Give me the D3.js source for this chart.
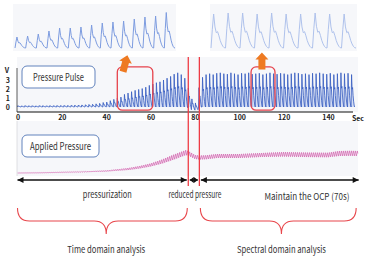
<!DOCTYPE html>
<html>
<head>
<meta charset="utf-8">
<style>
    body { margin: 0; background: #fff; }
    svg { display: block; font-family: "Noto Sans CJK KR", "Noto Sans", sans-serif; }
</style>
</head>
<body>
<svg id="chart" width="366" height="256"></svg>
<script src="https://cdn.jsdelivr.net/npm/d3@7/dist/d3.min.js"></script>
<script>
    // ---- values ----

    // pressure pulse: one peak (V) per heartbeat, beats every 1.6 s
    var beatSec = 1.6;
    var pulsePeak = [
        0.15, 0.12, 0.16, 0.14, 0.15, 0.13, 0.16, 0.15, 0.14, 0.16,
        0.15, 0.17, 0.16, 0.18, 0.17, 0.19, 0.20, 0.21, 0.23, 0.25,
        0.28, 0.30, 0.35, 0.40, 0.50, 0.55, 0.70, 0.85, 1.00, 1.10,
        1.40, 1.55, 1.70, 1.85, 1.95, 2.05, 2.20, 2.40, 2.55, 2.70,
        2.80, 3.00, 3.20, 3.40, 3.65, 3.80, 3.60, 3.20, 2.20, 1.20,
        0.80, 2.30, 3.30, 3.60, 3.70, 3.60, 3.75, 3.80, 3.70, 3.65,
        3.80, 3.70, 3.60, 3.75, 3.70, 3.80, 3.65, 3.70, 3.75, 3.60,
        3.70, 3.80, 3.70, 3.65, 3.75, 3.70, 3.60, 3.70, 3.80, 3.75,
        3.65, 3.70, 3.60, 3.75, 3.70, 3.80, 3.70, 3.65, 3.75, 3.60,
        3.70, 3.80, 3.70, 3.75, 3.60
    ];
    // beats whose baseline sags below 0 V around the pressure release
    var pulseDip = [[48, -0.1], [49, -0.3], [50, -0.35], [51, -0.15]];
    // one heartbeat, normalised
    var beatShape = [0, 1, 0.55, 0.6, 0.35, 0.18, 0.06];

    // applied pressure (arbitrary units 0-100) and its ripple half-height
    var cuffT      = [0, 10, 20, 30, 40, 45, 50, 55, 60, 65, 70, 73, 76, 78, 80, 82, 85, 90, 100, 110, 120, 130, 140, 145, 150, 153.5];
    var cuffLevel  = [6, 6.4, 7.4, 8.4, 10, 12, 14, 17.4, 22, 28.6, 37, 42, 47, 43, 38, 37, 37.4, 40, 40, 42, 43.4, 42.4, 42, 45, 45.4, 45];
    var cuffRipple = [0.8, 0.8, 0.8, 1, 1.2, 1.5, 2, 2.5, 3, 4, 5, 5, 5, 4.5, 4, 4, 4, 4, 4, 4, 4.5, 4.5, 4.5, 5, 5, 5];
    var rippleSec = 0.9;
    var rippleShape = [0, 1, 0, -1];

    var xTicks = [0, 20, 40, 60, 80, 100, 120, 140];
    var vTicks = [0, 1, 2, 3];

    // phases (sec) and their labels
    var phaseT = [0, 77, 82, 154.5];
    var phaseNames = ["pressurization", "reduced pressure", "Maintain the OCP (70s)"];
    var phaseLabelT = [40.5, 80, 130.5];
    var analysisNames = ["Time domain analysis", "Spectral domain analysis"];
    var analysisTipT = [40, 119];

    // zoomed windows (sec) and the arrows above them
    var zoomT = [[45, 61], [105.3, 116.1]];
    var arrowT = [48.5, 110.2];
    var arrowTilt = [15, 0];

    // inset waveforms: peak height of each beat
    var insetLeftPeak = [11, 12, 14, 17, 20, 20, 21, 23, 25, 26, 27, 29, 31, 32, 35.5];
    var insetRightPeak = [34, 35, 35, 34, 35, 34, 34, 35, 34, 34];
    var insetShape = [0, 0.55, 1, 0.62, 0.45, 0.48, 0.36, 0.22, 0.12, 0.05, 0.01];

    // ---- drawing ----
    var svg = d3.select("#chart");

    var x = d3.scaleLinear().domain([0, 140]).range([17.5, 328]);
    var yV = d3.scaleLinear().domain([0, 3]).range([107, 80]);
    var yP = d3.scaleLinear().domain([0, 100]).range([176, 126]);

    // light panels
    var panels = [[13, 4, 163, 47], [210, 4, 147, 47], [17, 57, 341, 55], [17, 121, 341, 55]];
    svg.selectAll("rect.panel").data(panels).enter().append("rect")
        .attr("class", "panel")
        .attr("x", function(d) { return d[0]; })
        .attr("y", function(d) { return d[1]; })
        .attr("width", function(d) { return d[2]; })
        .attr("height", function(d) { return d[3]; })
        .attr("fill", "#f6f7fa");

    // inset waveforms
    var yI = d3.scaleLinear().domain([0, 36]).range([48, 12]);
    function insetPoints(peaks) {
        var pts = [];
        peaks.forEach(function(p, j) {
            insetShape.forEach(function(s, k) {
                pts.push([j + k / insetShape.length, p * s]);
            });
        });
        pts.push([peaks.length, 0]);
        return pts;
    }
    var xL = d3.scaleLinear().domain([0, insetLeftPeak.length]).range([15, 175]);
    var xR = d3.scaleLinear().domain([0, insetRightPeak.length]).range([211, 356]);
    svg.append("path")
        .attr("d", d3.line().x(function(d) { return xL(d[0]); }).y(function(d) { return yI(d[1]); })(insetPoints(insetLeftPeak)))
        .attr("fill", "none").attr("stroke", "#7d9ce0").attr("stroke-width", 1);
    svg.append("path")
        .attr("d", d3.line().x(function(d) { return xR(d[0]); }).y(function(d) { return yI(d[1]); })(insetPoints(insetRightPeak)))
        .attr("fill", "none").attr("stroke", "#afc2ec").attr("stroke-width", 1);

    // pressure pulse
    function dipOf(j) {
        var hit = pulseDip.filter(function(d) { return d[0] === j; });
        return hit.length ? hit[0][1] : 0;
    }
    var pulsePts = [];
    pulsePeak.forEach(function(p, j) {
        var base = dipOf(j);
        beatShape.forEach(function(s, k) {
            pulsePts.push([j * beatSec + k * beatSec / beatShape.length, base + p * s]);
        });
    });
    pulsePts.push([pulsePeak.length * beatSec, 0]);

    svg.append("path")
        .attr("d", d3.area().x(function(d) { return x(d[0]); }).y0(yV(0)).y1(function(d) { return yV(d[1]); })(pulsePts))
        .attr("fill", "#bccaee").attr("opacity", 0.6);
    svg.append("path")
        .attr("d", d3.line().x(function(d) { return x(d[0]); }).y(function(d) { return yV(d[1]); })(pulsePts))
        .attr("fill", "none").attr("stroke", "#3a60c2").attr("stroke-width", 0.85);

    // applied pressure
    var levelAt = d3.scaleLinear().domain(cuffT).range(cuffLevel);
    var rippleAt = d3.scaleLinear().domain(cuffT).range(cuffRipple);
    var step = rippleSec / rippleShape.length;
    var cuffPts = d3.range(Math.floor(cuffT[cuffT.length - 1] / step) + 1).map(function(i) {
        var t = i * step;
        return [t, levelAt(t) + rippleAt(t) * rippleShape[i % rippleShape.length]];
    });
    svg.append("path")
        .attr("d", d3.line().x(function(d) { return x(d[0]); }).y(function(d) { return yP(d[1]); })(cuffPts))
        .attr("fill", "none").attr("stroke", "#d261ae").attr("stroke-width", 0.7);

    // axes
    var gx = svg.append("g").attr("transform", "translate(0,112)")
        .call(d3.axisBottom(x).tickValues(xTicks).tickSize(0).tickPadding(3));
    gx.select(".domain").remove();
    gx.selectAll("text").attr("font-size", 7).attr("font-weight", "bold").attr("fill", "#222")
        .attr("font-family", "\"Noto Sans CJK KR\", sans-serif");
    svg.append("line").attr("x1", 17).attr("x2", 353).attr("y1", 112).attr("y2", 112)
        .attr("stroke", "#111").attr("stroke-width", 1);
    svg.append("text").attr("x", 358).attr("y", 121).attr("text-anchor", "middle")
        .attr("font-size", 7).attr("font-weight", "bold").attr("fill", "#222").text("Sec");

    var gy = svg.append("g").attr("transform", "translate(17,0)")
        .call(d3.axisLeft(yV).tickValues(vTicks).tickFormat(d3.format("d")).tickSize(0).tickPadding(7));
    gy.select(".domain").remove();
    gy.selectAll("text").attr("font-size", 7).attr("font-weight", "bold").attr("fill", "#222")
        .attr("font-family", "\"Noto Sans CJK KR\", sans-serif");
    svg.append("line").attr("x1", 17).attr("x2", 17).attr("y1", 68).attr("y2", 112)
        .attr("stroke", "#333").attr("stroke-width", 0.8);
    svg.append("line").attr("x1", 17).attr("x2", 17).attr("y1", 121).attr("y2", 176)
        .attr("stroke", "#d8d8dc").attr("stroke-width", 0.8);
    svg.append("text").attr("x", 7).attr("y", 73).attr("text-anchor", "middle")
        .attr("font-size", 7).attr("font-weight", "bold").attr("fill", "#222").text("V");

    // text helper, squeezed to the width measured on the figure
    function label(g, px, py, txt, size, width) {
        return g.append("text").attr("x", px).attr("y", py)
            .attr("text-anchor", "middle").attr("font-size", size).attr("fill", "#333")
            .attr("textLength", width).attr("lengthAdjust", "spacingAndGlyphs")
            .text(txt);
    }

    // title boxes
    var boxes = [
        {x: 22, y: 66, w: 73, h: 22, text: "Pressure Pulse", tw: 51},
        {x: 22, y: 135, w: 77, h: 22, text: "Applied Pressure", tw: 61}
    ];
    boxes.forEach(function(b) {
        svg.append("rect").attr("x", b.x).attr("y", b.y).attr("width", b.w).attr("height", b.h)
            .attr("rx", 5).attr("fill", "#fff").attr("stroke", "#6283bd").attr("stroke-width", 1);
        label(svg, b.x + b.w / 2, b.y + b.h / 2 + 3.5, b.text, 10, b.tw);
    });

    // zoom windows
    zoomT.forEach(function(z) {
        svg.append("rect").attr("x", x(z[0])).attr("y", yV(4.45))
            .attr("width", x(z[1]) - x(z[0])).attr("height", yV(-0.35) - yV(4.45))
            .attr("rx", 5).attr("fill", "none").attr("stroke", "#e6434c").attr("stroke-width", 1.3);
    });

    // orange arrows
    var arrowPath = "M0,-9 L6.5,-2 L3.5,-2 L3.5,8 L-3.5,8 L-3.5,-2 L-6.5,-2 Z";
    arrowT.forEach(function(t, i) {
        svg.append("path").attr("d", arrowPath)
            .attr("transform", "translate(" + x(t) + "," + (i === 0 ? 64 : 61.5) + ") rotate(" + arrowTilt[i] + ")")
            .attr("fill", "#ee7a22");
    });

    // phase boundaries
    [phaseT[1], phaseT[2]].forEach(function(t) {
        svg.append("line").attr("x1", x(t)).attr("x2", x(t)).attr("y1", 57).attr("y2", 186)
            .attr("stroke", "#ee3b44").attr("stroke-width", 1.3);
    });

    // double-headed arrows for each phase
    var ay = 180;
    for (var i = 0; i < 3; i++) {
        var a = x(phaseT[i]) + (i === 0 ? 0 : 1.5);
        var b = x(phaseT[i + 1]) - 1.5;
        var hl = Math.min(6, (b - a) / 2);
        svg.append("line").attr("x1", a).attr("x2", b).attr("y1", ay).attr("y2", ay)
            .attr("stroke", "#111").attr("stroke-width", 1.4);
        svg.append("path").attr("d", "M" + a + "," + ay + " L" + (a + hl) + "," + (ay - 3) + " L" + (a + hl) + "," + (ay + 3) + " Z")
            .attr("fill", "#111");
        svg.append("path").attr("d", "M" + b + "," + ay + " L" + (b - hl) + "," + (ay - 3) + " L" + (b - hl) + "," + (ay + 3) + " Z")
            .attr("fill", "#111");
    }

    // phase labels
    var phaseW = [49, 53, 85];
    phaseNames.forEach(function(n, i) {
        label(svg, x(phaseLabelT[i]), i === 2 ? 200 : 197.5, n, 9.5, phaseW[i]);
    });

    // braces
    function brace(x1, x2, xm) {
        var y0 = 208, y1 = 221, y2 = 234, q = 12;
        return "M" + x1 + "," + y0 +
            " Q" + x1 + "," + y1 + " " + (x1 + q) + "," + y1 +
            " L" + (xm - q) + "," + y1 +
            " Q" + xm + "," + y1 + " " + xm + "," + y2 +
            " Q" + xm + "," + y1 + " " + (xm + q) + "," + y1 +
            " L" + (x2 - q) + "," + y1 +
            " Q" + x2 + "," + y1 + " " + x2 + "," + y0;
    }
    var braceEnds = [[x(phaseT[0]), x(phaseT[1]) - 1], [x(phaseT[2]) + 1, x(phaseT[3]) - 4]];
    var analysisW = [78, 89];
    analysisNames.forEach(function(n, i) {
        svg.append("path").attr("d", brace(braceEnds[i][0], braceEnds[i][1], x(analysisTipT[i])))
            .attr("fill", "none").attr("stroke", "#e8474c").attr("stroke-width", 1.1);
        label(svg, x(analysisTipT[i]), 252.5, n, 9.5, analysisW[i]);
    });
</script>
</body>
</html>
